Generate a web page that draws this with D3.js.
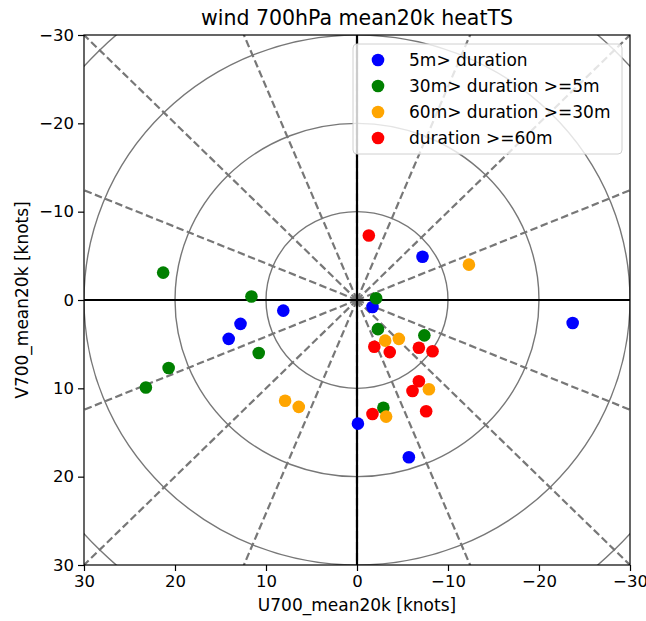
<!DOCTYPE html>
<meta charset="utf-8">
<style>
  body { margin: 0; background: #fff; }
  text { font-family: "DejaVu Sans", sans-serif; fill: #000; }
</style>
<body>
<svg id="chart" width="646" height="621"></svg>
<script src="https://cdnjs.cloudflare.com/ajax/libs/d3/7.8.5/d3.min.js"></script>
<script>

// series: [u, v] in knots
var blueU   = [8.1, 12.8, 14.1, -7.2, -1.7, -0.1, -5.7, -23.7]
var blueV   = [1.2, 2.7, 4.4, -4.9, 0.8, 14.0, 17.8, 2.6]
var greenU  = [21.3, 11.6, 10.8, 20.7, 23.2, -2.1, -2.3, -7.4, -2.9]
var greenV  = [-3.1, -0.4, 6.0, 7.7, 9.9, -0.2, 3.3, 4.0, 12.2]
var orangeU = [7.9, 6.4, -12.3, -3.1, -4.6, -7.9, -3.2]
var orangeV = [11.4, 12.1, -4.0, 4.6, 4.4, 10.1, 13.2]
var redU    = [-1.3, -1.9, -3.6, -6.8, -8.3, -6.8, -6.1, -7.6, -1.7]
var redV    = [-7.3, 5.3, 5.9, 5.4, 5.8, 9.2, 10.3, 12.6, 12.9]

var seriesNames = ['5m> duration', '30m> duration >=5m', '60m> duration >=30m', 'duration >=60m']
var seriesColors = ['blue', 'green', 'orange', 'red']

var xTicks = [30, 20, 10, 0, -10, -20, -30]
var yTicks = [-30, -20, -10, 0, 10, 20, 30]
var rings = [10, 20, 30, 40]
var spokeAngles = d3.range(0, 360, 22.5)

var series = [
  { u: blueU, v: blueV },
  { u: greenU, v: greenV },
  { u: orangeU, v: orangeV },
  { u: redU, v: redV }
]

// plot area edges (note: "top" is reserved on window)
var pLeft = 84, pRight = 630, pTop = 35, pBottom = 565

var svg = d3.select('#chart')

var x = d3.scaleLinear().domain([30, -30]).range([pLeft, pRight])
var y = d3.scaleLinear().domain([-30, 30]).range([pTop, pBottom])

svg.append('clipPath').attr('id', 'clip')
  .append('rect')
  .attr('x', pLeft).attr('y', pTop)
  .attr('width', pRight - pLeft).attr('height', pBottom - pTop)

var plot = svg.append('g').attr('clip-path', 'url(#clip)')

// radial dashed spokes
plot.selectAll('line.spoke')
  .data(spokeAngles)
  .enter().append('line')
  .attr('class', 'spoke')
  .attr('x1', x(0)).attr('y1', y(0))
  .attr('x2', function (a) { return x(50 * Math.cos(a * Math.PI / 180)) })
  .attr('y2', function (a) { return y(50 * Math.sin(a * Math.PI / 180)) })
  .attr('stroke', '#777')
  .attr('stroke-width', 2.2)
  .attr('stroke-dasharray', '7.5,3.5')

// speed rings
plot.selectAll('ellipse')
  .data(rings)
  .enter().append('ellipse')
  .attr('cx', x(0)).attr('cy', y(0))
  .attr('rx', function (r) { return Math.abs(x(r) - x(0)) })
  .attr('ry', function (r) { return Math.abs(y(r) - y(0)) })
  .attr('fill', 'none')
  .attr('stroke', '#777')
  .attr('stroke-width', 1.4)

// zero lines
plot.append('line')
  .attr('x1', pLeft).attr('x2', pRight)
  .attr('y1', y(0)).attr('y2', y(0))
  .attr('stroke', '#000').attr('stroke-width', 2.2)
plot.append('line')
  .attr('x1', x(0)).attr('x2', x(0))
  .attr('y1', pTop).attr('y2', pBottom)
  .attr('stroke', '#000').attr('stroke-width', 2.2)

// points
series.forEach(function (s, i) {
  plot.append('g').selectAll('circle')
    .data(s.u.map(function (u, j) { return [u, s.v[j]] }))
    .enter().append('circle')
    .attr('cx', function (d) { return x(d[0]) })
    .attr('cy', function (d) { return y(d[1]) })
    .attr('r', 6.3)
    .attr('fill', seriesColors[i])
})

// axes
var fmt = function (d) { return d < 0 ? '\u2212' + Math.abs(d) : d }

var xAxis = svg.append('g')
  .attr('transform', 'translate(0,' + pBottom + ')')
  .call(d3.axisBottom(x).tickValues(xTicks).tickFormat(fmt).tickSize(6).tickPadding(4))
var yAxis = svg.append('g')
  .attr('transform', 'translate(' + pLeft + ',0)')
  .call(d3.axisLeft(y).tickValues(yTicks).tickFormat(fmt).tickSize(6).tickPadding(4))

;[xAxis, yAxis].forEach(function (a) {
  a.select('.domain').remove()
  a.selectAll('line').attr('stroke', '#000').attr('stroke-width', 1.2)
  a.selectAll('text').attr('font-size', 16.5).attr('font-family', 'DejaVu Sans')
})

svg.append('rect')
  .attr('x', pLeft).attr('y', pTop)
  .attr('width', pRight - pLeft).attr('height', pBottom - pTop)
  .attr('fill', 'none').attr('stroke', '#000').attr('stroke-width', 1.2)

// title and labels
svg.append('text')
  .attr('x', (pLeft + pRight) / 2).attr('y', 25)
  .attr('text-anchor', 'middle').attr('font-size', 20.5)
  .text('wind 700hPa mean20k heatTS')

svg.append('text')
  .attr('x', (pLeft + pRight) / 2).attr('y', 611)
  .attr('text-anchor', 'middle').attr('font-size', 17)
  .text('U700_mean20k [knots]')

svg.append('text')
  .attr('transform', 'translate(28,' + (pTop + pBottom) / 2 + ') rotate(-90)')
  .attr('text-anchor', 'middle').attr('font-size', 17)
  .text('V700_mean20k [knots]')

// legend
var legend = svg.append('g').attr('transform', 'translate(353,44)')
legend.append('rect')
  .attr('width', 269).attr('height', 110).attr('rx', 4)
  .attr('fill', '#fff').attr('fill-opacity', 0.8)
  .attr('stroke', '#d0d0d0').attr('stroke-width', 1)

var rows = legend.selectAll('g.row')
  .data(seriesNames)
  .enter().append('g')
  .attr('class', 'row')
  .attr('transform', function (d, i) { return 'translate(0,' + (16 + i * 26) + ')' })
rows.append('circle')
  .attr('cx', 25).attr('cy', 0).attr('r', 6.3)
  .attr('fill', function (d, i) { return seriesColors[i] })
rows.append('text')
  .attr('x', 56).attr('y', 6)
  .attr('font-size', 17)
  .text(function (d) { return d })

</script>
</body>
